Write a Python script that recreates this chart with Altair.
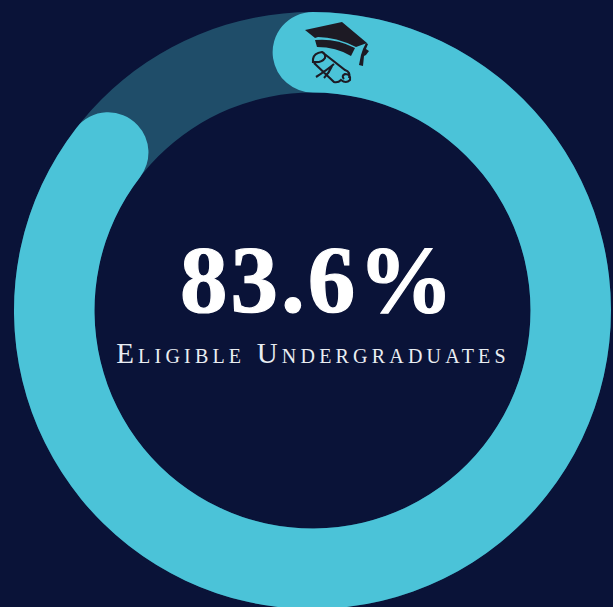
import altair as alt
import pandas as pd

NAVY = "#0a1338"
CYAN = "#4bc3d8"
TRACK = "#1f4d69"
INK = "#1d1a24"
CX, CY = 312.5, 310.5

percent_value = [83.6]
percent_label = ["83.6%"]
caption = ["Eligible Undergraduates"]

HAT = ("M-31,-20 L6,-28 L31,-7 L20,-3 Q0,-13 -18,-13 L-21,-12 Z "
       "M-21,-10 Q0,-12 19,-2 L15,6 Q0,-3 -19,-3 Z "
       "M30,-7 L32,-6 L30,-1 L33,1 L30,5 L28,6 L27,16 L23,15 L25,5 L27,-1 Z")
SCROLL = ("M-23,9 Q-22,3 -14,2 Q-10,4 -11,8 Q-14,13 -23,12 Z "
          "M-14,2 L9,20 Q15,22 13,28 "
          "M-22,13 L-2,32 Q2,33 5,30 Q10,34 14,30 Q15,24 9,24 Q5,26 8,29 "
          "M-2,14 Q-9,20 -20,27 M-4,16 Q-7,23 -12,28")

def scale_path(p, unit=35.0):
    out = []
    for tok in p.split():
        cmd = tok[0] if tok[0].isalpha() else ""
        body = tok[len(cmd):]
        if body:
            a, b = body.split(",")
            body = f"{float(a)/unit:.4f},{float(b)/unit:.4f}"
        out.append(cmd + body)
    return " ".join(out)

track = alt.Chart(pd.DataFrame({"k": [0]})).mark_arc(
    innerRadius=218, outerRadius=298.5, color=TRACK, theta=0, theta2=6.2832
).encode(x=alt.value(CX), y=alt.value(CY))

ring = alt.Chart(pd.DataFrame({"start": [0.0], "value": percent_value})).mark_arc(
    innerRadius=218, outerRadius=298.5, cornerRadius=40.2, color=CYAN
).encode(
    x=alt.value(CX), y=alt.value(CY),
    theta=alt.Theta("start:Q", scale=alt.Scale(domain=[0, 83.6], range=[-0.155, 5.527])),
    theta2="value:Q",
)

icon_data = pd.DataFrame({"k": [0]})
hat = alt.Chart(icon_data).mark_point(
    shape=scale_path(HAT), size=4900, filled=True, color=INK, opacity=1
).encode(x=alt.value(336), y=alt.value(50))
scroll = alt.Chart(icon_data).mark_point(
    shape=scale_path(SCROLL), size=4900, filled=False, stroke=INK, strokeWidth=2.1, opacity=1
).encode(x=alt.value(336), y=alt.value(50))

big = alt.Chart(pd.DataFrame({"t": percent_label})).mark_text(
    font="Liberation Serif", fontWeight="bold", fontSize=95, color="#ffffff",
    stroke="#ffffff", strokeWidth=1.2,
    align="center", baseline="alphabetic"
).encode(x=alt.value(318), y=alt.value(312), text="t:N")

small = alt.Chart(pd.DataFrame({"t": caption})).mark_text(
    font="Liberation Serif", fontSize=29, color="#e9edf2",
    align="center", baseline="alphabetic"
).encode(x=alt.value(313), y=alt.value(363), text="t:N")

chart = alt.layer(track, ring, hat, scroll, big, small).properties(
    width=613, height=607, padding=0, background=NAVY,
    autosize=alt.AutoSizeParams(type="none"),
).configure_view(stroke=None)

chart.save("out.html", embed_options={
    "renderer": "svg", "actions": False,
    "defaultStyle": (
        "html{background:#0a1338;overflow:hidden}"
        "body{margin:0}"
        ".layer_4_marks text{letter-spacing:3px}"
        ".layer_5_marks text{font-variant:small-caps;letter-spacing:4.2px}"
    ),
})
